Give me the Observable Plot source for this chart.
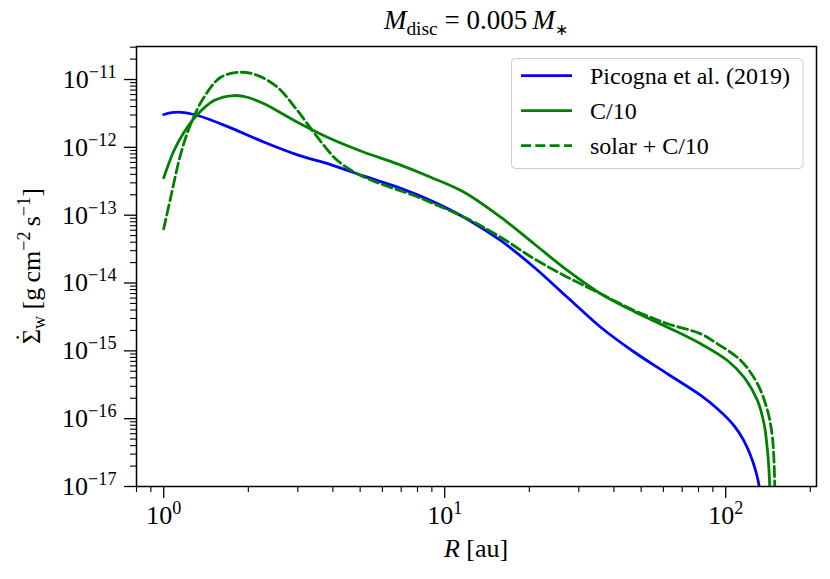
<!DOCTYPE html>
<html><head><meta charset="utf-8">
<script src="https://cdn.jsdelivr.net/npm/d3@7"></script>
<script src="https://cdn.jsdelivr.net/npm/@observablehq/plot@0.6"></script>
<style>body{margin:0;background:#fff}</style>
</head><body><div id="chart"></div>
<script>
// Picogna et al. (2019)
const rBlue = [1.0, 1.12, 1.32, 1.73, 2.28, 2.99, 3.93, 5.16, 6.79, 8.92, 11.7, 15.8, 20.8, 27.3, 35.9, 47.2, 62.0, 81.5, 93.4, 107, 116, 124.5, 131.4, 133];
const sBlue = [3.05e-12, 3.30e-12, 2.95e-12, 1.94e-12, 1.19e-12, 7.76e-13, 5.58e-13, 3.76e-13, 2.59e-13, 1.64e-13, 9.33e-14, 4.24e-14, 1.71e-14, 6.18e-15, 2.23e-15, 9.62e-16, 4.59e-16, 2.20e-16, 1.40e-16, 7.92e-17, 4.76e-17, 2.41e-17, 1.03e-17, 5e-18];
// C/10
const rC10 = [1.0, 1.088, 1.181, 1.318, 1.51, 1.779, 1.986, 2.275, 2.991, 3.929, 5.163, 6.787, 8.917, 11.72, 15.82, 20.79, 27.33, 35.92, 47.18, 62.02, 81.47, 101.4, 116.2, 129.7, 136.9, 140.8, 143.4, 143.7];
const sC10 = [3.56e-13, 9.0e-13, 1.67e-12, 3.05e-12, 4.91e-12, 5.81e-12, 5.48e-12, 4.38e-12, 2.35e-12, 1.34e-12, 8.49e-13, 5.71e-13, 3.63e-13, 2.18e-13, 9.33e-14, 3.79e-14, 1.53e-14, 6.93e-15, 3.80e-15, 2.23e-15, 1.27e-15, 7.21e-16, 4.08e-16, 1.85e-16, 8.39e-17, 3.40e-17, 1.03e-17, 5e-18];
// solar + C/10
const rSolar = [1.0, 1.059, 1.15, 1.248, 1.391, 1.595, 1.879, 2.156, 2.539, 2.991, 3.524, 4.151, 4.891, 5.918, 7.778, 9.16, 12.04, 15.82, 20.79, 27.33, 35.92, 47.18, 54.1, 62.02, 81.47, 93.4, 113.1, 129.7, 140.8, 146.6, 149.4, 149.7];
const sSolar = [6.29e-14, 1.84e-13, 8.04e-13, 2.22e-12, 5.48e-12, 1.08e-11, 1.28e-11, 1.15e-11, 7.71e-12, 3.49e-12, 1.41e-12, 6.40e-13, 4.07e-13, 2.90e-13, 1.95e-13, 1.47e-13, 8.85e-14, 4.73e-14, 2.28e-14, 1.22e-14, 6.93e-15, 3.94e-15, 3.13e-15, 2.51e-15, 1.78e-15, 1.27e-15, 7.21e-16, 3.27e-16, 1.32e-16, 5.33e-17, 1.1e-17, 5e-18];

const seriesNames = ["Picogna et al. (2019)", "C/10", "solar + C/10"];
const seriesColors = ["#0000ff", "#008000", "#008000"];
const seriesDash = [null, null, "10,4.3"];

const xMajor = [1, 10, 100];
const xMinor = [0.8, 0.9, 2, 3, 4, 5, 6, 7, 8, 9, 20, 30, 40, 50, 60, 70, 80, 90, 200];
const yMajor = [1e-17, 1e-16, 1e-15, 1e-14, 1e-13, 1e-12, 1e-11];
const yMinor = [];
for (let e = -17; e <= -11; e++) for (let k = 2; k <= 9; k++) { const v = k * Math.pow(10, e); if (v <= 3.07e-11) yMinor.push(+v.toPrecision(3)); }

const toRows = (rs, ss) => rs.map((r, i) => ({r, s: ss[i]}));
const rows = [toRows(rBlue, sBlue), toRows(rC10, sC10), toRows(rSolar, sSolar)];

const FONT = "'Liberation Serif', 'Times New Roman', serif";
const LW = 2.8;
const expFmt = d => "10^" + String(Math.round(Math.log10(d))).replace("-", "\u2212");

const plot = Plot.plot({
  width: 830, height: 579,
  marginLeft: 136, marginRight: 14, marginTop: 46, marginBottom: 93,
  style: {fontFamily: FONT, fontSize: "26px", color: "black", background: "white"},
  x: {type: "log", domain: [0.8, 210.4]},
  y: {type: "log", domain: [1e-17, 3.07e-11]},
  marks: [
    Plot.axisX({ticks: xMinor, tickSize: 6, tickFormat: () => "", label: null, strokeWidth: 1.1}),
    Plot.axisX({ticks: xMajor, tickSize: 12, tickPadding: 7, tickFormat: expFmt, label: null, strokeWidth: 1.3, fontSize: 26}),
    Plot.axisY({ticks: yMinor, tickSize: 6, tickFormat: () => "", label: null, strokeWidth: 1.1}),
    Plot.axisY({ticks: yMajor, tickSize: 12, tickPadding: 8, tickFormat: expFmt, label: null, strokeWidth: 1.3, fontSize: 26}),
    ...rows.map((data, i) => Plot.line(data, {x: "r", y: "s", stroke: seriesColors[i], strokeWidth: LW, strokeDasharray: seriesDash[i], curve: "catmull-rom", clip: true})),
    Plot.frame({stroke: "black", strokeWidth: 1.5})
  ]
});

const svg = d3.select(plot);

// superscripted tick labels
svg.selectAll("text").each(function () {
  const t = d3.select(this);
  const s = t.text();
  const m = s.match(/^10\^(.+)$/);
  if (!m) return;
  t.text(null);
  t.append("tspan").text("10");
  t.append("tspan").attr("dy", -10).attr("font-size", "0.7em").text(m[1]);
});

function rich(g, parts) {
  let cur = 0;
  for (const p of parts) {
    const sh = p.shift || 0;
    const ts = g.append("tspan").text(p.t);
    if (sh !== cur) { ts.attr("dy", sh - cur); cur = sh; }
    if (p.dx) ts.attr("dx", p.dx);
    if (p.italic) ts.attr("font-style", "italic");
    if (p.small) ts.attr("font-size", p.small);
  }
}

// title
const title = svg.append("text").attr("x", 476).attr("y", 29).attr("text-anchor", "middle")
  .style("font-family", FONT).style("font-size", "27px").attr("fill", "black");
rich(title, [
  {t: "M", italic: true}, {t: "disc", shift: 6, small: "0.72em"},
  {t: " = 0.005\u2009", shift: 0}, {t: "M", italic: true}, {t: "\u2217", shift: 6, small: "0.6em"}
]);

// x label
const xl = svg.append("text").attr("x", 476).attr("y", 557).attr("text-anchor", "middle")
  .style("font-family", FONT).style("font-size", "26px").attr("fill", "black");
rich(xl, [{t: "R", italic: true}, {t: " [au]"}]);

// y label
const yl = svg.append("text").attr("transform", "translate(40,266) rotate(-90)").attr("text-anchor", "middle")
  .style("font-family", FONT).style("font-size", "26px").attr("fill", "black");
rich(yl, [
  {t: "\u03A3"}, {t: "\u02D9", dx: -13, shift: -7}, {t: "w", dx: 4, shift: 5, small: "0.7em"},
  {t: " [g\u2009cm", shift: 0}, {t: "\u22122", shift: -10, small: "0.7em"},
  {t: "\u2009s", shift: 0}, {t: "\u22121", shift: -10, small: "0.7em"}, {t: "]", shift: 0}
]);

// legend
const lg = svg.append("g").style("font-family", FONT).style("font-size", "24px").attr("text-anchor", "start");
lg.append("rect").attr("x", 511.5).attr("y", 58.5).attr("width", 291.5).attr("height", 110).attr("rx", 4)
  .attr("fill", "white").attr("fill-opacity", 0.8).attr("stroke", "#cccccc").attr("stroke-width", 1);
seriesNames.forEach((name, i) => {
  const ly = 75.7 + 35 * i;
  lg.append("line").attr("x1", 521).attr("x2", 572).attr("y1", ly).attr("y2", ly)
    .attr("stroke", seriesColors[i]).attr("stroke-width", LW)
    .attr("stroke-dasharray", seriesDash[i]);
  lg.append("text").attr("x", 590).attr("y", ly + 8.5).attr("text-anchor", "start").attr("fill", "black").text(name);
});

document.getElementById("chart").appendChild(plot);
</script>
</body></html>
